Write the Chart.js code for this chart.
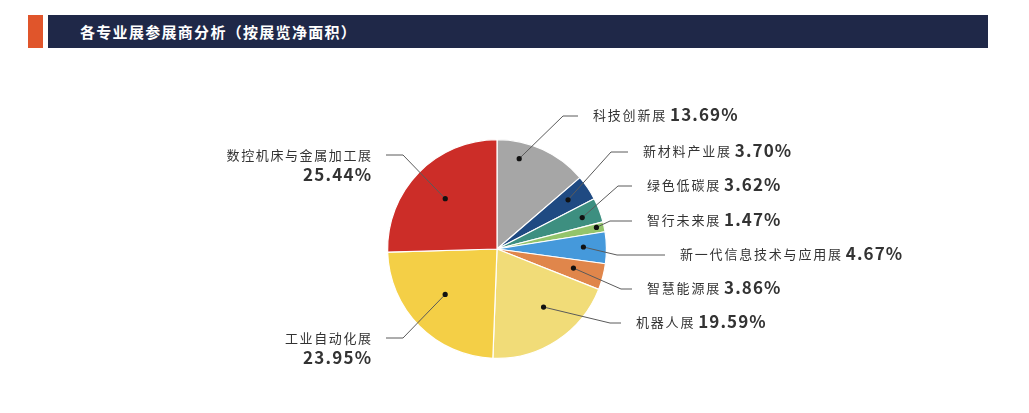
<!DOCTYPE html>
<html>
<head>
<meta charset="utf-8">
<script src="https://cdn.jsdelivr.net/npm/chart.js@4"></script>
<style>
  html, body { margin: 0; padding: 0; background: #fff; }
  body { width: 1029px; height: 413px; position: relative; overflow: hidden; font-family: "Noto Sans CJK SC", "Noto Sans", sans-serif; }
  #bloque { position: absolute; left: 28px; top: 15px; width: 15px; height: 33px; background: #e0552b; }
  #barra { position: absolute; left: 48px; top: 15px; width: 940px; height: 33px; background: #1f2848; }
  #titulo { position: absolute; left: 80px; top: 15px; height: 33px; line-height: 33px; color: #fff; font-weight: bold; font-size: 15px; letter-spacing: 1.3px; }
  #wrap { position: absolute; left: 0; top: 0; width: 1029px; height: 413px; }
</style>
</head>
<body>
<div id="bloque"></div>
<div id="barra"></div>
<div id="titulo">各专业展参展商分析（按展览净面积）</div>
<div id="wrap"><canvas id="grafica"></canvas></div>
<script>
// datos (orden horario desde las 12)
const NOMBRES = ["科技创新展", "新材料产业展", "绿色低碳展", "智行未来展", "新一代信息技术与应用展", "智慧能源展", "机器人展", "工业自动化展", "数控机床与金属加工展"];
const VALORES = [13.69, 3.70, 3.62, 1.47, 4.67, 3.86, 19.59, 23.95, 25.44];

const COLORES = ["#a6a6a6", "#1f4a82", "#3d8f80", "#93c46b", "#4599db", "#e0864b", "#f1dc78", "#f4cf46", "#cc2d28"];

// posición de las etiquetas (lado, y de la línea, codo x, fin x, punto dentro del sector)
const ETIQUETAS = [
  { lado: "der", y: 116, codo: 563, fin: 578, t: 0.28, f: 0.85 },
  { lado: "der", y: 152, codo: 611, fin: 628, t: 0.45, f: 0.79 },
  { lado: "der", y: 186, codo: 618, fin: 632, t: 0.55, f: 0.83 },
  { lado: "der", y: 221, codo: 610, fin: 632, t: 0.4, f: 0.93 },
  { lado: "der", y: 255, codo: 617, fin: 665, t: 0.46, f: 0.79 },
  { lado: "der", y: 289, codo: 621, fin: 632, t: 0.45, f: 0.72 },
  { lado: "der", y: 323, codo: 610, fin: 621, t: 0.42, f: 0.68 },
  { lado: "izq", y: 338, codo: 403, fin: 386, t: 0.54, f: 0.63 },
  { lado: "izq", y: 155, codo: 403, fin: 386, t: 0.5, f: 0.66 }
];

const FUENTE = '"Noto Sans CJK SC", "Noto Sans", sans-serif';

const etiquetasPlugin = {
  id: "etiquetas",
  afterDatasetsDraw(chart) {
    const ctx = chart.ctx;
    const arcos = chart.getDatasetMeta(0).data;
    ctx.save();
    arcos.forEach((arco, i) => {
      const p = arco.getProps(["x", "y", "startAngle", "endAngle", "outerRadius"], true);
      const lay = ETIQUETAS[i];
      const ang = p.startAngle + (p.endAngle - p.startAngle) * lay.t;
      const px = p.x + Math.cos(ang) * p.outerRadius * lay.f;
      const py = p.y + Math.sin(ang) * p.outerRadius * lay.f;

      // línea guía
      ctx.strokeStyle = "#5a5a5a";
      ctx.lineWidth = 1;
      ctx.beginPath();
      ctx.moveTo(px, py);
      ctx.lineTo(lay.codo, lay.y);
      ctx.lineTo(lay.fin, lay.y);
      ctx.stroke();

      // punto
      ctx.fillStyle = "#111";
      ctx.beginPath();
      ctx.arc(px, py, 2.6, 0, Math.PI * 2);
      ctx.fill();

      const pct = VALORES[i].toFixed(2) + "%";
      ctx.fillStyle = "#333";
      ctx.textBaseline = "middle";

      if (lay.lado === "der") {
        let x = lay.fin + 15;
        ctx.textAlign = "left";
        ctx.font = "13px " + FUENTE;
        ctx.letterSpacing = "1.8px";
        ctx.fillText(NOMBRES[i], x, lay.y - 1);
        x += ctx.measureText(NOMBRES[i]).width + 3;
        ctx.font = "bold 17px " + FUENTE;
        ctx.letterSpacing = "1.1px";
        ctx.fillText(pct, x, lay.y - 1);
      } else {
        const x = lay.fin - 15;
        ctx.textAlign = "right";
        ctx.font = "13px " + FUENTE;
        ctx.letterSpacing = "1.6px";
        ctx.fillText(NOMBRES[i], x + 1.6, lay.y);
        ctx.font = "bold 17px " + FUENTE;
        ctx.letterSpacing = "1.2px";
        ctx.fillText(pct, x + 1.2, lay.y + 20);
      }
    });
    ctx.restore();
  }
};

new Chart(document.getElementById("grafica"), {
  type: "pie",
  data: {
    labels: NOMBRES,
    datasets: [{
      data: VALORES,
      backgroundColor: COLORES,
      borderColor: "#fff",
      borderWidth: 1.2
    }]
  },
  options: {
    responsive: true,
    maintainAspectRatio: false,
    animation: false,
    events: [],
    layout: { padding: { top: 139, bottom: 54, left: 0, right: 35 } },
    plugins: {
      legend: { display: false },
      tooltip: { enabled: false }
    }
  },
  plugins: [etiquetasPlugin]
});
</script>
</body>
</html>
